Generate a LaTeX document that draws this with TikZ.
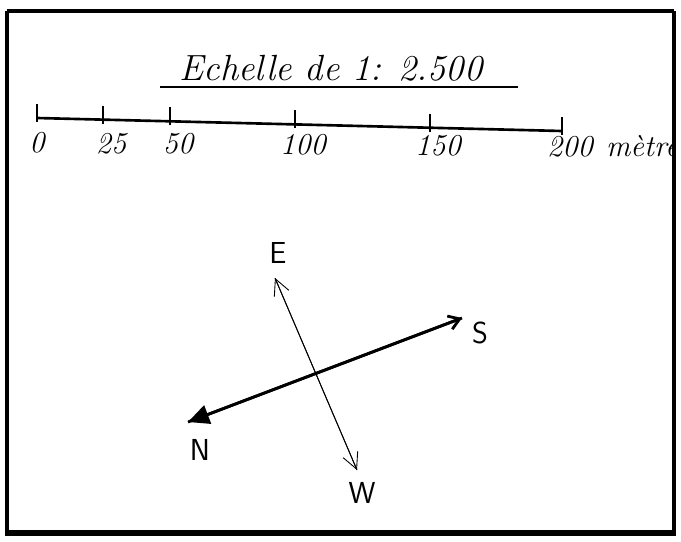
\documentclass[tikz,border=0pt]{standalone}
\usepackage{fontspec}
\usepackage{tikz}
\usepackage{xcolor}
\usetikzlibrary{arrows.meta}

\begin{document}
\begin{tikzpicture}[x=0.02cm,y=-0.02cm]

\useasboundingbox (0,0) rectangle (681,542);

% Unit text, cut off by the frame
\begin{scope}
  \clip (7,11) rectangle (672,533);
  \node[font=\itshape\LARGE, anchor=west] (unit) at (600,146) {mètre};
\end{scope}

% Frame
\draw[line width=2.2pt] (7,11) -- (674,11);
\draw[line width=2pt] (7,11) -- (7,533);
\draw[line width=2pt] (674,11) -- (674,533);
\draw[line width=3.8pt] (5,533) -- (676,533);

% Title
\node[font=\itshape\huge] (title) at (331,68) {Echelle de 1: 2.500};
\draw[line width=1.5pt] (160,87) -- (518,87);

% Scale bar
\coordinate (s0) at (37,118);
\coordinate (s200) at (562,131);
\draw[line width=1.5pt] (s0) -- (s200);
\foreach \x/\lab in {37/0, 103/25, 170/50, 295/100, 430/150, 562/200} {
  \draw[line width=0.9pt] ({\x},{118+13*(\x-37)/525-14}) -- ({\x},{118+13*(\x-37)/525+4});
  \node[font=\itshape\LARGE] (m\lab) at ({\x+8*(\lab>0)},{143+4*(\x-37)/525}) {\lab};
}

% Compass
\coordinate (eTip) at (275,278);
\coordinate (wTip) at (357,470);
\coordinate (nTip) at (188,422);
\coordinate (sTip) at (462,318);
\draw[line width=0.5pt, -{Straight Barb[length=9pt,width=9pt]}] (wTip) -- (eTip);
\draw[line width=0.5pt, -{Straight Barb[length=9pt,width=9pt]}] (eTip) -- (wTip);
\draw[line width=1.6pt, -{Triangle[length=12pt,width=11pt]}] (sTip) -- (nTip);
\draw[line width=1.6pt, -{Straight Barb[length=6pt,width=8pt]}] (nTip) -- (sTip);

% Labels
\node[font=\sffamily\LARGE] (eLab) at (278,253) {E};
\node[font=\sffamily\LARGE] (wLab) at (362,493) {W};
\node[font=\sffamily\LARGE] (nLab) at (200,450) {N};
\node[font=\sffamily\LARGE] (sLab) at (480,333) {S};

\end{tikzpicture}
\end{document}
